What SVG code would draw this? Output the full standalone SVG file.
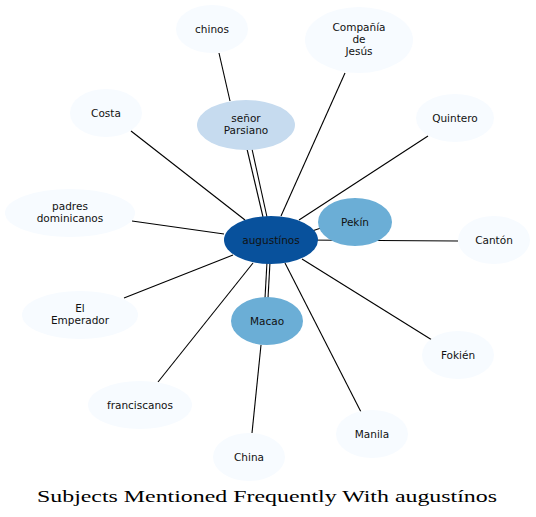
<svg xmlns="http://www.w3.org/2000/svg" width="536" height="517" viewBox="0 0 536 517">
<style>
text{font-family:"DejaVu Sans",sans-serif;font-size:10.5px;fill:#111;text-anchor:middle}
.t{font-family:"Liberation Serif",serif;font-size:17.5px;fill:#000}
.l{fill:#f7fbff}
.m{fill:#c6dbef}
.p{fill:#6baed6}
.d{fill:#08519c}
#edges line{stroke:#000;stroke-width:1.1}
</style>
<rect width="536" height="517" fill="#fff"/>
<g id="edges">
<line x1="219" y1="53" x2="230" y2="101"/>
<line x1="345" y1="73" x2="281" y2="216"/>
<line x1="428" y1="136" x2="299" y2="220"/>
<line x1="131" y1="131" x2="245" y2="220"/>
<line x1="132" y1="221" x2="224" y2="234"/>
<line x1="124" y1="298" x2="233" y2="255"/>
<line x1="158" y1="382" x2="253" y2="263"/>
<line x1="252" y1="433" x2="261" y2="345"/>
<line x1="267" y1="262" x2="265" y2="298"/>
<line x1="270" y1="262" x2="268" y2="298"/>
<line x1="361" y1="412" x2="285" y2="263"/>
<line x1="432" y1="340" x2="302" y2="259"/>
<line x1="300" y1="240" x2="458" y2="241"/>
<line x1="300" y1="235" x2="330" y2="225"/>
<line x1="247" y1="149" x2="263" y2="217"/>
<line x1="252" y1="149" x2="267" y2="217"/>
</g>
<g id="chinos"><ellipse class="l" cx="212" cy="29" rx="36" ry="24"/><text x="212" y="32.5">chinos</text></g>
<g id="compania"><ellipse class="l" cx="359" cy="40" rx="54" ry="33"/><text x="359" y="31">Compañía</text><text x="359" y="43">de</text><text x="359" y="55">Jesús</text></g>
<g id="quintero"><ellipse class="l" cx="455" cy="118" rx="39" ry="24"/><text x="455" y="121.5">Quintero</text></g>
<g id="costa"><ellipse class="l" cx="106" cy="113" rx="36" ry="24"/><text x="106" y="116.5">Costa</text></g>
<g id="parsiano"><ellipse class="m" cx="246" cy="125" rx="49" ry="25"/><text x="246" y="122">señor</text><text x="246" y="134">Parsiano</text></g>
<g id="padres"><ellipse class="l" cx="70" cy="213" rx="65" ry="24"/><text x="70" y="210">padres</text><text x="70" y="222">dominicanos</text></g>
<g id="augustinos"><ellipse class="d" cx="271" cy="240" rx="47" ry="24"/><text x="271" y="243.5">augustínos</text></g>
<g id="pekin"><ellipse class="p" cx="355" cy="222" rx="37" ry="24"/><text x="355" y="225.5">Pekín</text></g>
<g id="canton"><ellipse class="l" cx="494" cy="240" rx="36" ry="24"/><text x="494" y="243.5">Cantón</text></g>
<g id="emperador"><ellipse class="l" cx="80" cy="315" rx="58" ry="24"/><text x="80" y="312">El</text><text x="80" y="324">Emperador</text></g>
<g id="macao"><ellipse class="p" cx="267" cy="321" rx="36" ry="24"/><text x="267" y="324.5">Macao</text></g>
<g id="fokien"><ellipse class="l" cx="458" cy="355" rx="36" ry="24"/><text x="458" y="358.5">Fokién</text></g>
<g id="franciscanos"><ellipse class="l" cx="140" cy="405" rx="52" ry="24"/><text x="140" y="408.5">franciscanos</text></g>
<g id="manila"><ellipse class="l" cx="372" cy="434" rx="36" ry="24"/><text x="372" y="437.5">Manila</text></g>
<g id="china"><ellipse class="l" cx="249" cy="457" rx="36" ry="24"/><text x="249" y="460.5">China</text></g>
<text class="t" x="267" y="502" textLength="460" lengthAdjust="spacingAndGlyphs">Subjects Mentioned Frequently With augustínos</text>
</svg>
